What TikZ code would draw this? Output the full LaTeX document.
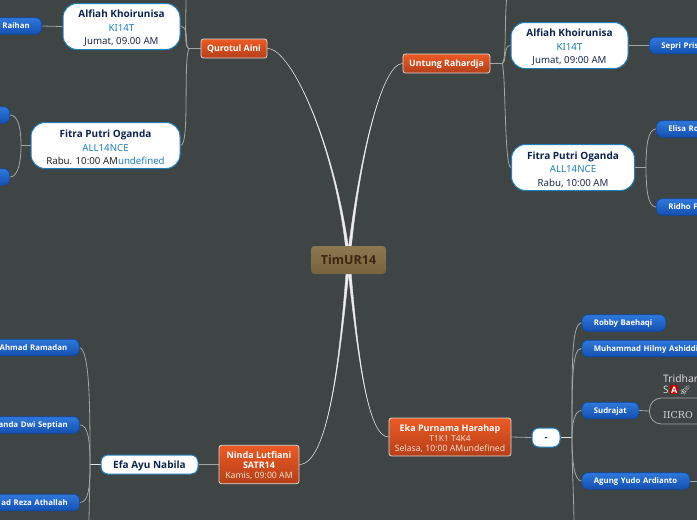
\documentclass[tikz,border=0pt]{standalone}
\usepackage{fontspec}
\setmainfont{Noto Sans}[BoldFont={Open Sans Bold}]
\newfontfamily\emojifont{Noto Emoji}
\newfontfamily\iicrofont{DejaVu Serif}
\usetikzlibrary{backgrounds}
\definecolor{bgc}{HTML}{3F4444}
\definecolor{navy}{HTML}{0C2350}
\definecolor{linkblue}{HTML}{1F80BC}
\definecolor{teal14}{HTML}{1B7C9E}
\definecolor{ink}{HTML}{1A2A50}
\definecolor{conn}{HTML}{A3A6A6}
\definecolor{orangelight}{HTML}{F8DCCB}
\definecolor{bluetop}{HTML}{2F78DC}
\definecolor{bluebot}{HTML}{1350B0}
\definecolor{blueedge}{HTML}{0F4A9E}
\definecolor{orangetop}{HTML}{EC5A24}
\definecolor{orangebot}{HTML}{B53F18}
\definecolor{browntop}{HTML}{8C7850}
\definecolor{brownbot}{HTML}{76643E}
\definecolor{browntext}{HTML}{3C2612}
\newcommand{\fs}[1]{\fontsize{#1}{#1}\selectfont}
\newcommand{\dn}{\rule{0pt}{11.5pt}}
\newcommand{\dno}{\rule{0pt}{10pt}}
\tikzset{
  oneline/.style={text height=#1, text depth=0pt},
  bluebox/.style={draw=blueedge, line width=0.7pt, rounded corners=6pt, top color=bluetop, bottom color=bluebot, minimum height=16.5pt, inner ysep=0pt, inner xsep=12pt, text=white, font=\fs{7.8}\bfseries, oneline=5.6pt},
  whitebox/.style={draw=linkblue, line width=1pt, fill=white, rounded corners=14pt, align=center, inner sep=0pt, text=navy},
  orangebox/.style={draw=white!85!black, line width=0.8pt, rounded corners=2.5pt, top color=orangetop, bottom color=orangebot, align=center, inner sep=0pt, text=white},
  centerbox/.style={rounded corners=3.5pt, top color=browntop, bottom color=brownbot, inner sep=0pt, text=browntext, font=\fs{12.5}\bfseries, oneline=9pt},
  outlinebox/.style={draw=conn, line width=0.8pt, rounded corners=12pt, inner sep=0pt},
  thinlink/.style={draw=conn, line width=0.8pt},
  trunk/.style={fill=white!92!black, draw=white!92!black, line width=0.4pt},
}
\newcommand{\taper}[3]{%
  \path[trunk] (#1) .. controls #2 and #3 .. ([xshift=1.6pt]root.center) -- ([xshift=-1.6pt]root.center) .. controls #3 and #2 .. (#1) -- cycle;}
\begin{document}
\begin{tikzpicture}[x=1pt,y=-1pt]
\useasboundingbox (0,0) rectangle (697,520);
% centre
\node[centerbox, minimum width=75pt, minimum height=28pt] (root) at (348.5,260) {TimUR14};
% main nodes
\node[orangebox, minimum width=66pt, minimum height=19pt, font=\fs{8.8}\bfseries, oneline=6.3pt] (qa) at (234,48.5) {Qurotul Aini};
\node[orangebox, minimum width=87pt, minimum height=19pt, font=\fs{8.8}\bfseries, oneline=6.3pt] (ur) at (446.5,63.5) {Untung Rahardja};
\node[orangebox, minimum width=122pt, minimum height=38pt] (ep) at (450,437) {\dno{\fs{9}\bfseries Eka Purnama Harahap}\\[-2pt]{\fs{8.4}\color{orangelight}T1K1 T4K4}\\[-2.5pt]{\fs{8.7}\color{orangelight}Selasa, 10:00 AMundefined}};
\node[orangebox, minimum width=80pt, minimum height=38.5pt] (nl) at (259,464.5) {\dno{\fs{9}\bfseries Ninda Lutfiani}\\[-2pt]{\fs{9}\bfseries SATR14}\\[-2pt]{\fs{8.7}\color{orangelight}Kamis, 09:00 AM}};
% white nodes
\node[whitebox, minimum width=117pt, minimum height=46pt] (akl) at (121.5,26.5) {\dn{\fs{10}\bfseries Alfiah Khoirunisa}\\[1.5pt]{\fs{9.7}\color{linkblue}KI14T}\\[1.5pt]{\fs{9.7}\color{ink}Jumat, 09.00 AM}};
\node[whitebox, minimum width=149pt, minimum height=46pt] (fpl) at (105.5,145.5) {\dn{\fs{10}\bfseries Fitra Putri Oganda}\\[1.5pt]{\fs{9.7}\color{linkblue}ALL14NCE}\\[1.5pt]{\fs{9.7}\color{black!85}Rabu. 10:00 AM\color{linkblue}undefined}};
\node[whitebox, minimum width=117pt, minimum height=46pt] (akr) at (569.5,45.5) {\dn{\fs{10}\bfseries Alfiah Khoirunisa}\\[1.5pt]{\fs{9.7}\color{teal14}KI14T}\\[1.5pt]{\fs{9.7}\color{ink}Jumat, 09:00 AM}};
\node[whitebox, minimum width=123pt, minimum height=46pt] (fpr) at (573,167.5) {\dn{\fs{10}\bfseries Fitra Putri Oganda}\\[1.5pt]{\fs{9.7}\color{linkblue}ALL14NCE}\\[1.5pt]{\fs{9.7}\color{ink}Rabu, 10:00 AM}};
\node[whitebox, rounded corners=7pt, minimum width=28pt, minimum height=19pt, font=\fs{9}\bfseries, oneline=5pt] (dash) at (546,437.5) {-};
\node[whitebox, rounded corners=7pt, minimum width=97pt, minimum height=19pt, font=\fs{10}\bfseries, oneline=7.2pt] (efa) at (149.5,464.5) {Efa Ayu Nabila};
% blue nodes, cut by the page edge
\node[bluebox, anchor=east, text width=60pt, align=right] (raihan) at (42,26) {Raihan};
\node[bluebox, anchor=east, text width=40pt] (ul1) at (10,115) {};
\node[bluebox, anchor=east, text width=40pt] (ul2) at (10,177) {};
\node[bluebox, anchor=west, text width=90pt, align=left] (sepri) at (649,45.5) {Sepri Pris};
\node[bluebox, anchor=west, text width=90pt, align=left] (elisa) at (656,129) {Elisa Ro};
\node[bluebox, anchor=west, text width=90pt, align=left] (ridho) at (656,207) {Ridho F};
\node[bluebox, anchor=west, text width=60pt, align=left] (robby) at (581.5,323) {\mbox{Robby Baehaqi}};
\node[bluebox, anchor=west, text width=130pt, align=left] (hilmy) at (581.5,348.5) {\mbox{Muhammad Hilmy Ashiddi}};
\node[bluebox, anchor=west, text width=33pt, align=left] (sud) at (581.5,410.5) {\mbox{Sudrajat}};
\node[bluebox, anchor=west, text width=84pt, align=left] (agung) at (581.5,481) {\mbox{Agung Yudo Ardianto}};
\node[bluebox, anchor=east, text width=100pt, align=right] (ahmad) at (79.5,347.5) {Ahmad Ramadan};
\node[bluebox, anchor=east, text width=100pt, align=right] (ananda) at (80,425) {anda Dwi Septian};
\node[bluebox, anchor=east, text width=100pt, align=right] (reza) at (80,502.5) {ad Reza Athallah};
% outlined node at right
\node[outlinebox, anchor=west, minimum width=90pt, minimum height=26pt] (iicro) at (649,411) {};
\node[anchor=west, inner sep=0pt, text=white!85!black, font=\fs{9.5}] (iicrot) at (663,415.5) {\iicrofont IICRO};
\node[anchor=west, inner sep=0pt, text=white!85!black, font=\fs{10.3}] (trid) at (663,378.5) {Tridhar};
\node[anchor=west, inner sep=0pt, text=white!85!black, font=\fs{10.3}] (sa) at (663,390) {S\hspace{1pt}{\setlength\fboxsep{1.2pt}\colorbox{red!75!black}{\color{white}\fs{9}\bfseries A}}\hspace{1pt}{\emojifont\fs{9}\char"1F680}};
% free ends
\coordinate (qtop) at (186,-5);
\coordinate (utop) at (507,-5);
\coordinate (sdown) at (574,525);
\coordinate (edown) at (89,525);
\coordinate (agungout) at (700,481);
\begin{scope}[on background layer]
\fill[bgc] (0,0) rectangle (697,520);
% trunks
\taper{qa.east}{(292,48)}{(337,150)}
\taper{ur.west}{(383,63)}{(360,150)}
\taper{ep.west}{(368,437)}{(358,360)}
\taper{nl.east}{(328,464)}{(340,360)}
% Qurotul Aini
\coordinate (qj) at (189,48.5);
\draw[thinlink] (qa.west) -- (qj);
\draw[thinlink] (qj) .. controls (184,48.5) and (186,30) .. (qtop);
\draw[thinlink] (qj) .. controls (184,48.5) and (190,26) .. (akl.east);
\draw[thinlink] (qj) .. controls (183,60) and (190,146) .. (fpl.east);
% Untung Rahardja
\coordinate (uj) at (502,63.5);
\draw[thinlink] (ur.east) -- (uj);
\draw[thinlink] (uj) .. controls (507,60) and (504,20) .. (utop);
\draw[thinlink] (uj) .. controls (507,63) and (503,45) .. (akr.west);
\draw[thinlink] (uj) .. controls (506,70) and (504,167) .. (fpr.west);
% first level leaves
\draw[thinlink] (akl.west) -- (raihan.east);
\draw[thinlink] (akr.east) -- (sepri.west);
\coordinate (fj1) at (21,145.5);
\draw[thinlink] (fpl.west) -- (fj1);
\draw[thinlink] (fj1) .. controls (21,125) and (17,115) .. (ul1.east);
\draw[thinlink] (fj1) .. controls (21,165) and (17,177) .. (ul2.east);
\coordinate (fj2) at (646,167.5);
\draw[thinlink] (fpr.east) -- (fj2);
\draw[thinlink] (fj2) .. controls (646,145) and (648,129) .. (elisa.west);
\draw[thinlink] (fj2) .. controls (646,190) and (648,207) .. (ridho.west);
% Eka
\draw[thinlink] (ep.east) -- (dash.west);
\coordinate (dj) at (572,437.5);
\draw[draw=white!90!black, line width=0.9pt] (dash.east) -- (dj);
\draw[thinlink] (dj) .. controls (572,370) and (571,323) .. (robby.west);
\draw[thinlink] (dj) .. controls (572,380) and (572,348) .. (hilmy.west);
\draw[thinlink] (dj) .. controls (572,425) and (574,410.5) .. (sud.west);
\draw[thinlink] (dj) .. controls (572,460) and (574,481) .. (agung.west);
\draw[thinlink] (dj) .. controls (572,470) and (574,500) .. (sdown);
\draw[thinlink] (sud.east) -- (iicro.west);
\draw[thinlink] (agung.east) -- (agungout);
% Ninda
\draw[thinlink] (nl.west) -- (efa.east);
\coordinate (ej) at (90,464.5);
\draw[thinlink, draw=white!90!black] (efa.west) -- (ej);
\draw[thinlink] (ej) .. controls (90,410) and (90,350) .. (ahmad.east);
\draw[thinlink] (ej) .. controls (90,440) and (88,425) .. (ananda.east);
\draw[thinlink] (ej) .. controls (90,490) and (88,502) .. (reza.east);
\draw[thinlink] (ej) .. controls (90,480) and (89,510) .. (edown);
\end{scope}
\end{tikzpicture}
\end{document}
